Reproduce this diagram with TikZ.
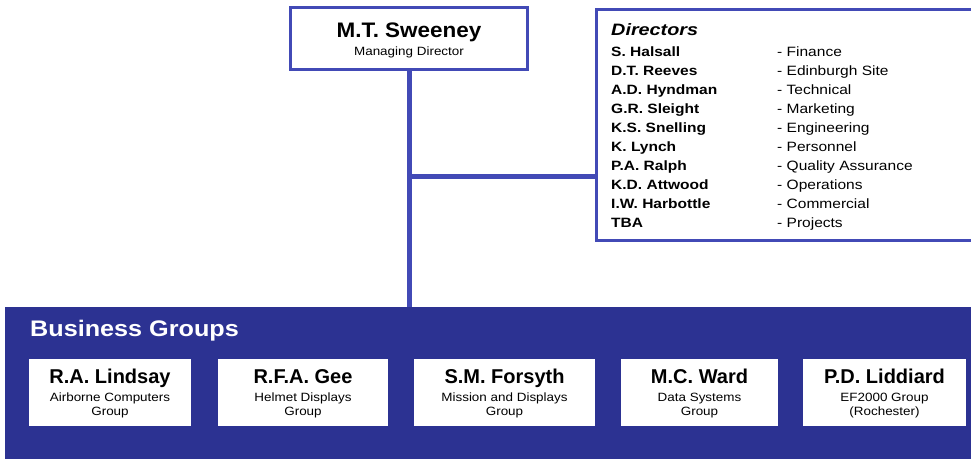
\documentclass[tikz,border=0pt]{standalone}
\usepackage{fontspec}
\setmainfont{Liberation Sans}
\newfontfamily\widevii[FakeStretch=1.07]{Liberation Sans}
\newfontfamily\widexii[FakeStretch=1.12]{Liberation Sans}
\newfontfamily\widexv[FakeStretch=1.15]{Liberation Sans}
\newfontfamily\widexx[FakeStretch=1.2]{Liberation Sans}
\usetikzlibrary{positioning}
\definecolor{boxblue}{RGB}{66,74,182}
\definecolor{panelblue}{RGB}{44,50,146}

\begin{document}
\begin{tikzpicture}[x=1pt,y=-1pt,
  boxline/.style={draw=boxblue,line width=3pt},
  link/.style={draw=boxblue,line width=5pt},
  bigname/.style={font=\fontsize{20}{24}\selectfont\bfseries,anchor=base,inner sep=0pt},
  subline/.style={font=\widexii\fontsize{12}{14}\selectfont,anchor=base,inner sep=0pt},
  dirtext/.style={font=\widexv\fontsize{13.5}{16}\selectfont,anchor=base west,inner sep=0pt},
  groupbox/.style={fill=white,minimum height=67pt,inner sep=0pt}]
\useasboundingbox (0,0) rectangle (971,459);

% managing director
\node[boxline,fill=white,minimum width=237pt,minimum height=62pt,inner sep=0pt] (md) at (409,38.5) {};
\node[bigname,font=\widevii\fontsize{21}{25}\selectfont\bfseries] (mdname) at (409,37) {M.T. Sweeney};
\node[subline,font=\widexii\fontsize{12}{14}\selectfont] (mdrole) at (409,55) {Managing Director};

% directors
\node[fill=white,minimum width=374pt,minimum height=230pt,inner sep=0pt] (dirs) at (784,125) {};
\draw[boxline] (dirs.north east) -- (dirs.north west) -- (dirs.south west) -- (dirs.south east);
\node[font=\widexx\fontsize{16.5}{18}\selectfont\bfseries\itshape,anchor=base west,inner sep=0pt] (dirhead) at (611,35) {Directors};
\foreach \nm/\role [count=\i] in {S. Halsall/Finance, D.T. Reeves/Edinburgh Site,
  A.D. Hyndman/Technical, G.R. Sleight/Marketing, K.S. Snelling/Engineering,
  K. Lynch/Personnel, P.A. Ralph/Quality Assurance, K.D. Attwood/Operations,
  I.W. Harbottle/Commercial, TBA/Projects} {
  \node[dirtext,font=\widexv\fontsize{13.5}{16}\selectfont\bfseries] (dn\i) at (611,{56+19.1*(\i-1)}) {\nm};
  \node[dirtext] (dr\i) at (777,{56+19.1*(\i-1)}) {- \role};
}

% business groups
\node[fill=panelblue,minimum width=966pt,minimum height=152pt,inner sep=0pt] (bg) at (488,383) {};
\node[font=\widexii\fontsize{22.5}{26}\selectfont\bfseries,text=white,anchor=base west,inner sep=0pt] (bgtitle) at (30,336) {Business Groups};
\foreach \cx/\w/\nm/\la/\lb [count=\i] in {110/162/R.A. Lindsay/Airborne Computers/Group,
  303/170/R.F.A. Gee/Helmet Displays/Group,
  504.5/181/S.M. Forsyth/Mission and Displays/Group,
  699.5/157/M.C. Ward/Data Systems/Group,
  884.5/163/P.D. Liddiard/EF2000 Group/(Rochester)} {
  \node[groupbox,minimum width=\w pt] (g\i) at (\cx,392.5) {};
  \node[bigname] (g\i n) at (\cx,383) {\nm};
  \node[subline] (g\i a) at (\cx,401) {\la};
  \node[subline] (g\i b) at (\cx,415) {\lb};
}

% connectors
\coordinate (jn) at (md.south |- 0,176);
\draw[link] (md.south) -- (bg.north -| md.south);
\draw[link] (jn) -- (jn -| dirs.west);
\end{tikzpicture}
\end{document}
